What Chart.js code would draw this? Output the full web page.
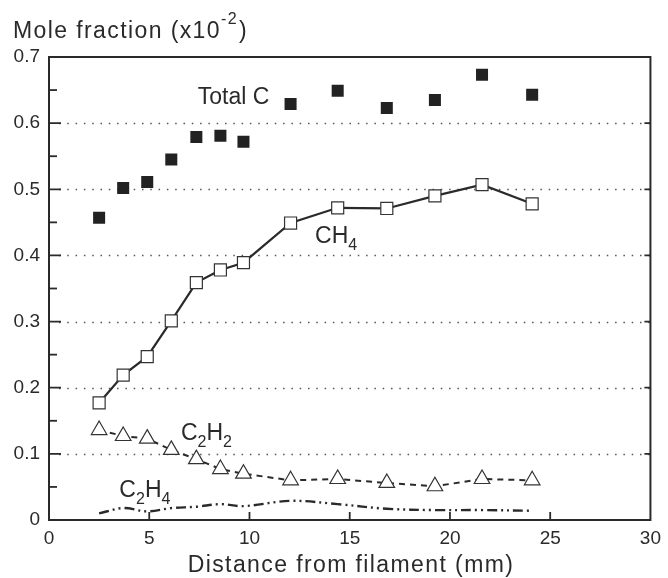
<!DOCTYPE html>
<html>
<head>
<meta charset="utf-8">
<script src="https://cdn.jsdelivr.net/npm/chart.js@4"></script>
<style>
  body { margin: 0; background: #fff; }
  #wrap { width: 668px; height: 578px; }
</style>
</head>
<body>
<div id="wrap"><canvas id="moleChart" width="668" height="578"></canvas></div>
<script>
// distance from filament (mm)
var distance = [2.5, 3.7, 4.9, 6.1, 7.35, 8.55, 9.7, 12.05, 14.4, 16.85, 19.25, 21.6, 24.1];
// mole fractions (x10^-2)
var totalC = [0.457, 0.502, 0.511, 0.545, 0.579, 0.581, 0.572, 0.629, 0.649, 0.623, 0.635, 0.673, 0.643];
var ch4 = [0.177, 0.219, 0.247, 0.301, 0.359, 0.378, 0.389, 0.449, 0.472, 0.471, 0.490, 0.507, 0.478];
var c2h2 = [0.136, 0.127, 0.123, 0.106, 0.092, 0.077, 0.070, 0.060, 0.062, 0.056, 0.051, 0.062, 0.060];
var c2h4 = [0.010, 0.018, 0.013, 0.018, 0.020, 0.024, 0.021, 0.029, 0.024, 0.017, 0.015, 0.015, 0.014];
var xTicks = [0, 5, 10, 15, 20, 25, 30];
var yTicks = [0, 0.1, 0.2, 0.3, 0.4, 0.5, 0.6, 0.7];

var FONT = '"Liberation Sans", Arial, Helvetica, sans-serif';
var INK = '#2a2a2a';

function pts(ys) {
    return distance.map(function(d, i) { return { x: d, y: ys[i] }; });
}

// text with subscripts: parts = [[text, isSub], ...]
function drawLabel(ctx, x, y, parts, size) {
    parts.forEach(function(p) {
        var s = p[1] ? Math.round(size * 0.68) : size;
        ctx.font = s + 'px ' + FONT;
        ctx.fillText(p[0], x, p[1] ? y + size * 0.3 : y);
        x += ctx.measureText(p[0]).width;
    });
}

var framePlugin = {
    id: 'frame',
    beforeDatasetsDraw: function(chart) {
        var ctx = chart.ctx, a = chart.chartArea;
        var xs = chart.scales.x, ys = chart.scales.y;
        ctx.save();
        // dotted grid
        ctx.strokeStyle = '#555';
        ctx.lineWidth = 1.3;
        ctx.setLineDash([1.5, 6.8]);
        yTicks.forEach(function(v) {
            if (v === 0 || v === 0.7) return;
            var py = Math.round(ys.getPixelForValue(v)) + 0.5;
            ctx.beginPath();
            ctx.moveTo(a.left + 10, py);
            ctx.lineTo(a.right, py);
            ctx.stroke();
        });
        ctx.setLineDash([]);
        // frame
        ctx.strokeStyle = INK;
        ctx.lineWidth = 2;
        ctx.strokeRect(a.left, a.top, a.right - a.left, a.bottom - a.top);
        // inward ticks
        ctx.lineWidth = 1.8;
        for (var v = 0.05; v < 0.7; v += 0.05) {
            var py = ys.getPixelForValue(v);
            var major = Math.abs(v * 10 - Math.round(v * 10)) < 0.01;
            ctx.beginPath();
            ctx.moveTo(a.left, py);
            ctx.lineTo(a.left + (major ? 12 : 8), py);
            if (major) {
                ctx.moveTo(a.right, py);
                ctx.lineTo(a.right - 6, py);
            }
            ctx.stroke();
        }
        xTicks.forEach(function(t) {
            if (t === 0 || t === 30) return;
            var px = xs.getPixelForValue(t);
            ctx.beginPath();
            ctx.moveTo(px, a.bottom);
            ctx.lineTo(px, a.bottom - 8);
            ctx.stroke();
        });
        ctx.restore();
    },
    afterDraw: function(chart) {
        var ctx = chart.ctx;
        var xs = chart.scales.x, ys = chart.scales.y;
        ctx.save();
        ctx.fillStyle = INK;
        ctx.textBaseline = 'alphabetic';
        ctx.textAlign = 'left';
        // axis titles
        if ('letterSpacing' in ctx) ctx.letterSpacing = '1.4px';
        ctx.font = '23px ' + FONT;
        ctx.fillText('Mole fraction (x10', 13, 38);
        var w = ctx.measureText('Mole fraction (x10').width;
        ctx.font = '16px ' + FONT;
        ctx.fillText('-2', 13 + w, 24);
        var w2 = ctx.measureText('-2').width;
        ctx.font = '23px ' + FONT;
        ctx.fillText(')', 13 + w + w2 + 1, 38);
        ctx.font = '23px ' + FONT;
        ctx.textAlign = 'center';
        ctx.fillText('Distance from filament (mm)', 351, 572);
        if ('letterSpacing' in ctx) ctx.letterSpacing = '0px';
        ctx.textAlign = 'left';
        // series labels
        drawLabel(ctx, xs.getPixelForValue(7.42), ys.getPixelForValue(0.629), [['Total C', false]], 23);
        drawLabel(ctx, xs.getPixelForValue(13.27), ys.getPixelForValue(0.419), [['CH', false], ['4', true]], 23);
        drawLabel(ctx, xs.getPixelForValue(6.58), ys.getPixelForValue(0.121), [['C', false], ['2', true], ['H', false], ['2', true]], 23);
        drawLabel(ctx, xs.getPixelForValue(3.51), ys.getPixelForValue(0.035), [['C', false], ['2', true], ['H', false], ['4', true]], 23);
        ctx.restore();
    }
};

var ctx = document.getElementById('moleChart').getContext('2d');
var moleChart = new Chart(ctx, {
    type: 'scatter',
    data: {
        datasets: [{
            label: 'C2H4',
            data: pts(c2h4),
            showLine: true,
            borderColor: '#2a2a2a',
            borderWidth: 2.4,
            borderDash: [10, 4, 2, 4, 2, 4],
            tension: 0.35,
            pointRadius: 0,
            fill: false
        }, {
            label: 'C2H2',
            data: pts(c2h2),
            showLine: true,
            borderColor: '#2a2a2a',
            borderWidth: 2,
            borderDash: [6, 5],
            pointStyle: 'triangle',
            pointRadius: 9,
            pointBorderWidth: 1.2,
            pointBackgroundColor: '#fff',
            pointBorderColor: '#333',
            fill: false
        }, {
            label: 'CH4',
            data: pts(ch4),
            showLine: true,
            borderColor: '#2a2a2a',
            borderWidth: 2.2,
            pointStyle: 'rect',
            pointRadius: 8.5,
            pointBorderWidth: 1.2,
            pointBackgroundColor: '#fff',
            pointBorderColor: '#333',
            fill: false
        }, {
            label: 'Total C',
            data: pts(totalC),
            showLine: false,
            pointStyle: 'rect',
            pointRadius: 8.5,
            pointBorderWidth: 0,
            pointBackgroundColor: '#222',
            pointBorderColor: '#222'
        }]
    },
    options: {
        responsive: false,
        animation: false,
        layout: { padding: { top: 57, right: 12, bottom: 0, left: 0 } },
        plugins: {
            legend: { display: false },
            tooltip: { enabled: false }
        },
        scales: {
            x: {
                type: 'linear',
                min: 0,
                max: 30,
                afterFit: function(scale) { scale.height = 58; },
                afterBuildTicks: function(scale) {
                    scale.ticks = xTicks.map(function(v) { return { value: v }; });
                },
                grid: { display: false, drawTicks: false },
                border: { display: false },
                ticks: {
                    padding: 7,
                    color: INK,
                    font: { family: FONT, size: 19 },
                    maxRotation: 0,
                    callback: function(v) { return String(v); }
                }
            },
            y: {
                type: 'linear',
                min: 0,
                max: 0.7,
                afterFit: function(scale) { scale.width = 49; },
                afterBuildTicks: function(scale) {
                    scale.ticks = yTicks.map(function(v) { return { value: v }; });
                },
                grid: { display: false, drawTicks: false },
                border: { display: false },
                ticks: {
                    padding: 9,
                    color: INK,
                    font: { family: FONT, size: 19 },
                    callback: function(v) { return v === 0 ? '0' : v.toFixed(1); }
                }
            }
        }
    },
    plugins: [framePlugin]
});
</script>
</body>
</html>
